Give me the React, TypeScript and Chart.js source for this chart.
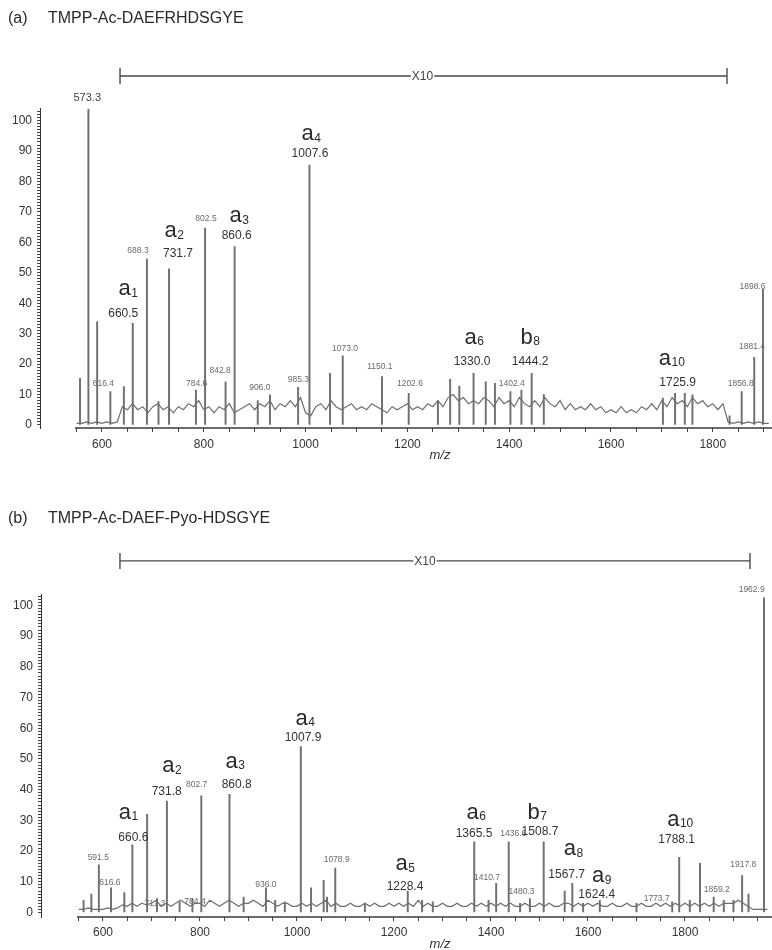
import React, { useEffect, useRef } from 'react';
import { Chart, registerables } from 'chart.js';

Chart.register(...registerables);

const FONT = '"Liberation Sans", Arial, Helvetica, sans-serif';

// ---------------- Panel (a) data ----------------
const labelA = '(a)';
const peptideA = 'TMPP-Ac-DAEFRHDSGYE';
const peaksA_mz = [556.8, 573.3, 590.5, 616.4, 643, 660.5, 688.3, 711, 731.7, 784.6, 802.5, 842.8, 860.6, 906.0, 930, 985.3, 1007.6, 1048, 1073.0, 1150.1, 1202.6, 1260, 1284, 1302, 1330.0, 1354, 1372, 1402.4, 1424, 1444.2, 1468, 1702, 1725.9, 1745, 1760, 1833, 1856.8, 1881.4, 1898.6];
const peaksA_int = [15.3, 103.8, 34, 11, 12.6, 33.4, 54.5, 7.7, 51.3, 11.5, 64.7, 14.2, 58.6, 8, 9.9, 12.4, 85.4, 17, 22.7, 15.9, 10.4, 8, 15, 12.8, 17, 14.2, 13.7, 11, 11.5, 17, 10, 8.8, 10.4, 10.4, 9.9, 3, 11, 22.2, 44.6];
// baseline profile sampled every 10 m/z from 550
const noiseA_from = 550;
const noiseA_step = 10;
const noiseA_int = [
  0.5, 0.5, 1, 0.5, 1, 0.5, 1, 0.5, 1,
  6, 5, 7, 5, 6, 4,
  6, 7, 5, 6, 4, 6, 5, 7, 6, 8,
  5, 6, 4, 6, 5, 7, 4, 5, 6, 7,
  5, 7, 6, 8, 5, 7, 6, 8, 6, 9,
  4, 3, 6, 7, 5, 8, 6, 5, 6, 7,
  5, 6, 5, 7, 6, 5, 4, 6, 5, 6,
  7, 5, 6, 5, 7, 6, 8, 6, 9, 10,
  8, 9, 7, 8, 7, 9, 8, 6, 9, 7,
  8, 6, 9, 7, 6, 8, 6, 9, 7, 6,
  8, 5, 7, 5, 6, 5, 7, 5, 6, 4,
  5, 4, 6, 4, 5, 4, 6, 5, 7, 5,
  8, 6, 9, 7, 8, 6, 9, 7, 8, 6,
  7, 5, 7,
  1, 0.5, 1, 0.5, 1, 0.5, 1, 0.5, 0.5,
];
const ionsA: [string, string, number, number][] = [
  ['a', '1', 651, 44.4], ['a', '2', 741.5, 63.5], ['a', '3', 869, 68.5], ['a', '4', 1010.6, 95.3],
  ['a', '6', 1331, 28.5], ['b', '8', 1441, 28.5], ['a', '10', 1719, 21.6],
];
const ionMzA: [string, number, number][] = [
  ['660.5', 641.8, 36.7], ['731.7', 749.3, 56.2], ['860.6', 864.6, 62.2], ['1007.6', 1008.6, 89],
  ['1330.0', 1327, 20.8], ['1444.2', 1441, 20.8], ['1725.9', 1731, 13.9],
];
const minorMzA: [string, number, number][] = [
  ['616.4', 602.6, 13.7], ['688.3', 670.7, 57.3], ['784.6', 786, 13.7], ['802.5', 804.3, 67.7],
  ['842.8', 832, 18], ['906.0', 910, 12.2], ['985.3', 985.7, 14.8], ['1073.0', 1077.4, 25.2],
  ['1150.1', 1146, 19], ['1202.6', 1205, 13.7], ['1402.4', 1405, 13.7], ['1856.8', 1854.8, 13.7],
  ['1881.4', 1877, 25.7], ['1898.6', 1878, 45.3],
];
const baseMzA: [string, number, number][] = [['573.3', 571, 107.6]];
const x10A: [number, number, number, number] = [635.4, 1827.9, 1229.7, 114.7];

// ---------------- Panel (b) data ----------------
const labelB = '(b)';
const peptideB = 'TMPP-Ac-DAEF-Pyo-HDSGYE';
const peaksB_mz = [560, 576, 591.5, 616.6, 644, 660.6, 691, 711.3, 731.8, 758, 784.4, 802.7, 860.8, 890, 936.0, 955, 975, 1007.9, 1029, 1055, 1062, 1078.9, 1140, 1228.4, 1258, 1280, 1365.5, 1395, 1410.7, 1436.6, 1460, 1480.3, 1508.7, 1552, 1567.7, 1590, 1624.4, 1700, 1773.7, 1788.1, 1810, 1831, 1859.2, 1880, 1900, 1917.8, 1931, 1962.9];
const peaksB_int = [4, 6, 15.5, 8, 6.5, 22, 32, 4.5, 36.3, 3.5, 4.5, 38, 38.5, 5, 8, 4, 3.5, 54, 8, 10.5, 5, 14.5, 3, 7, 4, 3.5, 23, 4, 9.5, 23, 3, 4.5, 23, 7, 9.5, 3, 4, 3, 3.5, 18, 4, 16, 5, 4, 4, 12, 6, 102.5];
const noiseB_from = 550;
const noiseB_step = 10;
const noiseB_int = [
  1, 1, 1.5, 1, 1,
  1, 1.5, 1, 1.5, 2.5, 2, 3, 2, 3, 2.5,
  3, 4, 2, 3, 2, 3, 4, 3, 2, 3,
  3, 2, 4, 3, 2, 3, 4, 3, 2, 3,
  3, 4, 3, 2, 4, 3, 2, 3, 3, 2,
  2, 3, 2, 3, 2, 3, 4, 2, 3, 2,
  2, 3, 2, 2, 3, 2, 3, 2, 2, 3,
  2, 3, 2, 3, 2, 4, 2, 3, 2, 2,
  3, 2, 2, 3, 2, 2, 3, 2, 3, 2,
  3, 2, 3, 2, 3, 2, 2, 3, 2, 2,
  3, 2, 3, 2, 2, 3, 3, 2, 3, 2,
  3, 2, 3, 2, 2, 3, 2, 2, 3, 2,
  2, 3, 2, 2, 3, 2, 3, 2, 3, 2,
  3, 2, 3, 2, 3, 2, 3, 2, 3, 3,
  3, 4, 3, 2, 1, 1, 1, 1,
];
const ionsB: [string, string, number, number][] = [
  ['a', '1', 652, 32.3], ['a', '2', 741.6, 47.4], ['a', '3', 872, 49], ['a', '4', 1016.5, 63],
  ['a', '5', 1222.7, 15.5], ['a', '6', 1369, 32.3], ['b', '7', 1494.8, 32.3], ['a', '8', 1569.7, 20.4],
  ['a', '9', 1628, 11.7], ['a', '10', 1789.7, 30.1],
];
const ionMzB: [string, number, number][] = [
  ['660.6', 662.5, 24.5], ['731.8', 731.3, 39.5], ['860.8', 875.7, 41.5], ['1007.9', 1012.4, 56.8],
  ['1228.4', 1222.7, 8.4], ['1365.5', 1365, 25.8], ['1508.7', 1501, 26.3], ['1567.7', 1556, 12.2],
  ['1624.4', 1618, 5.7], ['1788.1', 1782.9, 23.6],
];
const minorMzB: [string, number, number][] = [
  ['591.5', 590.3, 17.7], ['616.6', 614.4, 9.7], ['711.3', 707, 3], ['784.4', 789.7, 3.5],
  ['802.7', 793, 41.5], ['936.0', 936, 9], ['1078.9', 1081.8, 17.1], ['1410.7', 1391.7, 11.5],
  ['1436.6', 1446, 25.8], ['1480.3', 1463, 6.8], ['1773.7', 1741.6, 4.6], ['1859.2', 1865.4, 7.3],
  ['1917.8', 1920.2, 15.5], ['1962.9', 1937.5, 105.3],
];
const baseMzB: [string, number, number][] = [];
const x10B: [number, number, number, number] = [635, 1934, 1264, 114.5];

// ---------------- axes ----------------
const xTickLabels = [600, 800, 1000, 1200, 1400, 1600, 1800];
const yTickLabels = [0, 10, 20, 30, 40, 50, 60, 70, 80, 90, 100];
const xMinorA = Array.from({ length: 28 }, (_, i) => 550 + i * 50); // 550..1900
const xMinorB = Array.from({ length: 29 }, (_, i) => 550 + i * 50); // 550..1950
const yMinor = Array.from({ length: 104 }, (_, i) => i); // 0..103

type PanelDef = {
  peaksMz: number[]; peaksInt: number[];
  noiseFrom: number; noiseStep: number; noiseInt: number[];
  ions: [string, string, number, number][];
  ionMz: [string, number, number][];
  minorMz: [string, number, number][];
  baseMz: [string, number, number][];
  x10: [number, number, number, number];
  xMinor: number[];
  xMin: number; xMax: number; yMin: number; yMax: number;
  padTop: number; xAxisH: number; yAxisW: number; tickPad: number;
  axisStart: number; mzTitle: [number, number];
};

const panelA: PanelDef = {
  peaksMz: peaksA_mz, peaksInt: peaksA_int,
  noiseFrom: noiseA_from, noiseStep: noiseA_step, noiseInt: noiseA_int,
  ions: ionsA, ionMz: ionMzA, minorMz: minorMzA, baseMz: baseMzA, x10: x10A,
  xMinor: xMinorA,
  xMin: 478.2, xMax: 1912.4, yMin: -1, yMax: 104,
  padTop: 108.5, xAxisH: 42, yAxisW: 40, tickPad: 5,
  axisStart: 547, mzTitle: [1264, -9.9],
};

const panelB: PanelDef = {
  peaksMz: peaksB_mz, peaksInt: peaksB_int,
  noiseFrom: noiseB_from, noiseStep: noiseB_step, noiseInt: noiseB_int,
  ions: ionsB, ionMz: ionMzB, minorMz: minorMzB, baseMz: baseMzB, x10: x10B,
  xMinor: xMinorB,
  xMin: 472.2, xMax: 1975.3, yMin: -1.5, yMax: 103.5,
  padTop: 124.7, xAxisH: 32.9, yAxisW: 41, tickPad: 4.5,
  axisStart: 546.4, mzTitle: [1295, -10.3],
};

function annotPlugin(p: PanelDef) {
  return {
    id: 'annot',
    afterDraw(chart: any) {
      const { ctx, chartArea } = chart;
      const xs = chart.scales.x;
      const ys = chart.scales.y;
      const px = (m: number) => xs.getPixelForValue(m);
      const py = (v: number) => ys.getPixelForValue(v);
      ctx.save();
      // x axis line
      ctx.strokeStyle = '#3a3a3a';
      ctx.lineWidth = 1.5;
      ctx.beginPath();
      ctx.moveTo(px(p.axisStart), chartArea.bottom);
      ctx.lineTo(chartArea.right + 2, chartArea.bottom);
      ctx.stroke();

      // X10 bracket
      const [b0, b1, bt, bl] = p.x10;
      const by = py(bl);
      ctx.strokeStyle = '#4a4a4a';
      ctx.lineWidth = 1.4;
      ctx.beginPath();
      ctx.moveTo(px(b0), by); ctx.lineTo(px(b1), by);
      ctx.moveTo(px(b0), by - 8); ctx.lineTo(px(b0), by + 8);
      ctx.moveTo(px(b1), by - 8); ctx.lineTo(px(b1), by + 8);
      ctx.stroke();
      ctx.font = `12px ${FONT}`;
      const tw = ctx.measureText('X10').width;
      ctx.fillStyle = '#fff';
      ctx.fillRect(px(bt) - tw / 2 - 1, by - 5, tw + 2, 10);
      ctx.fillStyle = '#444';
      ctx.textAlign = 'center';
      ctx.textBaseline = 'middle';
      ctx.fillText('X10', px(bt), by + 0.5);

      // numeric labels
      const drawTexts = (list: [string, number, number][], font: string, color: string) => {
        ctx.font = font;
        ctx.fillStyle = color;
        ctx.textAlign = 'center';
        ctx.textBaseline = 'middle';
        for (const [t, m, v] of list) ctx.fillText(t, px(m), py(v));
      };
      drawTexts(p.minorMz, `8.5px ${FONT}`, '#6a6a6a');
      drawTexts(p.baseMz, `11px ${FONT}`, '#444');
      drawTexts(p.ionMz, `12px ${FONT}`, '#333');

      // ion labels with subscript
      ctx.textAlign = 'left';
      ctx.textBaseline = 'alphabetic';
      ctx.fillStyle = '#2a2a2a';
      for (const [letter, sub, m, v] of p.ions) {
        ctx.font = `22px ${FONT}`;
        const w1 = ctx.measureText(letter).width;
        ctx.font = `12px ${FONT}`;
        const w2 = ctx.measureText(sub).width;
        const left = px(m) - (w1 + w2) / 2;
        const base = py(v) + 5.5;
        ctx.font = `22px ${FONT}`;
        ctx.fillText(letter, left, base);
        ctx.font = `12px ${FONT}`;
        ctx.fillText(sub, left + w1 + 0.5, base + 1.5);
      }

      // m/z axis title
      ctx.font = `italic 13px ${FONT}`;
      ctx.fillStyle = '#333';
      ctx.textAlign = 'center';
      ctx.textBaseline = 'middle';
      ctx.fillText('m/z', px(p.mzTitle[0]), py(p.mzTitle[1]));
      ctx.restore();
    },
  };
}

function buildChart(canvas: HTMLCanvasElement, p: PanelDef) {
  const sticks = p.peaksMz.map((m, i) => ({ x: m, y: p.peaksInt[i] }));
  const profile = p.noiseInt.map((v, i) => ({ x: p.noiseFrom + i * p.noiseStep, y: v }));
  return new Chart(canvas, {
    type: 'bar',
    data: {
      datasets: [
        {
          type: 'line',
          data: profile,
          borderColor: '#6e6e6e',
          borderWidth: 1.2,
          pointRadius: 0,
          tension: 0,
          fill: false,
        } as any,
        {
          type: 'bar',
          data: sticks,
          backgroundColor: '#707070',
          borderWidth: 0,
          barThickness: 1.3,
        } as any,
      ],
    },
    options: {
      responsive: false,
      maintainAspectRatio: false,
      animation: false,
      events: [],
      layout: { padding: { top: p.padTop, right: 2, left: 0, bottom: 0 } },
      plugins: {
        legend: { display: false },
        tooltip: { enabled: false },
        title: { display: false },
      },
      scales: {
        x: {
          type: 'linear',
          min: p.xMin,
          max: p.xMax,
          offset: false,
          border: { display: false },
          grid: { display: true, offset: false, drawOnChartArea: false, drawTicks: true, tickLength: 4, color: '#444', lineWidth: 1 },
          ticks: {
            autoSkip: false,
            maxRotation: 0,
            padding: p.tickPad,
            color: '#333',
            font: { size: 12, family: FONT },
            callback: (v: any) => (xTickLabels.includes(Number(v)) ? String(v) : ''),
          },
          afterBuildTicks: (scale: any) => {
            scale.ticks = p.xMinor.map((v) => ({ value: v }));
          },
          afterFit: (scale: any) => {
            scale.height = p.xAxisH;
          },
        },
        y: {
          type: 'linear',
          min: p.yMin,
          max: p.yMax,
          border: { display: true, color: '#333', width: 1 },
          grid: { display: true, offset: false, drawOnChartArea: false, drawTicks: true, tickLength: 3, color: '#444', lineWidth: 1 },
          ticks: {
            autoSkip: false,
            padding: 5,
            color: '#333',
            font: { size: 12, family: FONT },
            callback: (v: any) => (yTickLabels.includes(Number(v)) ? String(v) : ''),
          },
          afterBuildTicks: (scale: any) => {
            scale.ticks = yMinor.map((v) => ({ value: v }));
          },
          afterFit: (scale: any) => {
            scale.width = p.yAxisW;
          },
        },
      },
    } as any,
    plugins: [annotPlugin(p) as any],
  });
}

const titleStyle: React.CSSProperties = {
  position: 'absolute',
  fontFamily: FONT,
  fontSize: 16,
  lineHeight: '20px',
  color: '#2a2a2a',
  whiteSpace: 'nowrap',
};

export default function App() {
  const refA = useRef<HTMLCanvasElement>(null);
  const refB = useRef<HTMLCanvasElement>(null);

  useEffect(() => {
    document.body.style.margin = '0';
    const ca = buildChart(refA.current!, panelA);
    const cb = buildChart(refB.current!, panelB);
    return () => {
      ca.destroy();
      cb.destroy();
    };
  }, []);

  return (
    <div style={{ position: 'relative', width: 772, height: 950, background: '#fff', overflow: 'hidden' }}>
      <canvas ref={refA} width={772} height={470} style={{ position: 'absolute', left: 0, top: 0, width: 772, height: 470 }} />
      <canvas ref={refB} width={772} height={480} style={{ position: 'absolute', left: 0, top: 470, width: 772, height: 480 }} />
      <div style={{ ...titleStyle, left: 8, top: 8 }}>{labelA}</div>
      <div style={{ ...titleStyle, left: 48, top: 8 }}>{peptideA}</div>
      <div style={{ ...titleStyle, left: 8, top: 508 }}>{labelB}</div>
      <div style={{ ...titleStyle, left: 48, top: 508 }}>{peptideB}</div>
    </div>
  );
}
